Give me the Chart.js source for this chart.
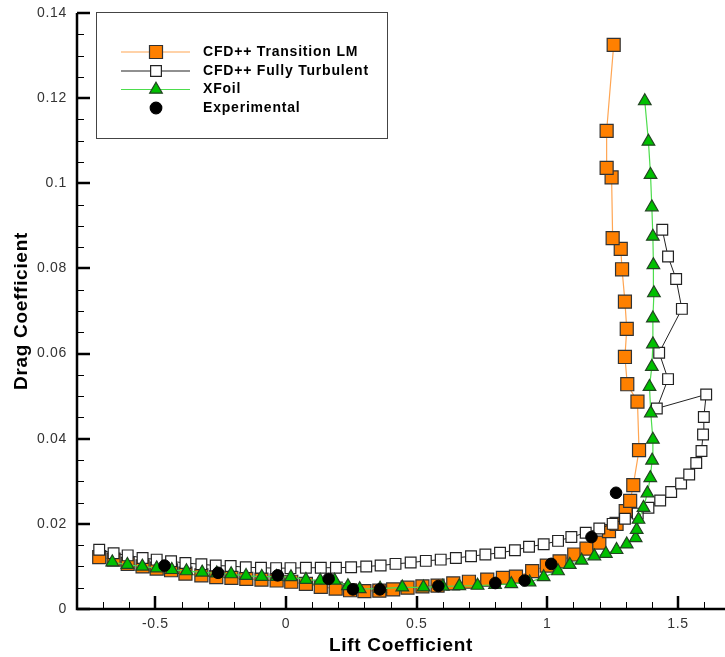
<!DOCTYPE html>
<html>
<head>
<meta charset="utf-8">
<script src="https://cdn.jsdelivr.net/npm/chart.js@4.4.1/dist/chart.umd.min.js"></script>
<style>
  body { margin: 0; background: #fff; overflow: hidden; }
</style>
</head>
<body>
<canvas id="polar" width="725" height="657"></canvas>
<script>
// CFD++ with the LM transition model
var lmCl = [-0.715, -0.660, -0.606, -0.549, -0.495, -0.440, -0.385, -0.324, -0.267, -0.209, -0.152, -0.094, -0.036,
            0.020, 0.076, 0.133, 0.190, 0.245, 0.300, 0.357, 0.410, 0.465, 0.522, 0.580, 0.640, 0.700, 0.770,
            0.830, 0.880, 0.942, 0.998, 1.047, 1.103, 1.150, 1.199, 1.236, 1.265, 1.300, 1.317, 1.329, 1.351,
            1.345, 1.306, 1.297, 1.304, 1.297, 1.286, 1.281, 1.250, 1.246, 1.227, 1.227, 1.254];
var lmCd = [0.0122, 0.0116, 0.0106, 0.0100, 0.0095, 0.0091, 0.0083, 0.0079, 0.0075, 0.0073, 0.0071, 0.0069, 0.0067,
            0.0064, 0.0059, 0.0052, 0.0048, 0.0044, 0.0042, 0.0043, 0.0046, 0.0050, 0.0053, 0.0055, 0.0060, 0.0064, 0.0069,
            0.0073, 0.0076, 0.0089, 0.0102, 0.0112, 0.0128, 0.0142, 0.0156, 0.0183, 0.0200, 0.0230, 0.0254, 0.0291, 0.0373,
            0.0487, 0.0528, 0.0592, 0.0658, 0.0722, 0.0798, 0.0846, 0.0871, 0.1014, 0.1036, 0.1123, 0.1325];

// CFD++ fully turbulent
var turbCl = [-0.715, -0.660, -0.606, -0.549, -0.495, -0.440, -0.385, -0.324, -0.269, -0.212, -0.154, -0.096, -0.038,
              0.017, 0.076, 0.133, 0.191, 0.249, 0.307, 0.362, 0.419, 0.477, 0.535, 0.592, 0.650, 0.708, 0.763,
              0.819, 0.876, 0.930, 0.986, 1.041, 1.092, 1.147, 1.199, 1.250, 1.297, 1.346, 1.387, 1.432, 1.474,
              1.512, 1.543, 1.570, 1.590, 1.596, 1.599, 1.608, 1.419, 1.462, 1.428, 1.515, 1.493, 1.462, 1.440];
var turbCd = [0.0139, 0.0131, 0.0126, 0.0120, 0.0116, 0.0112, 0.0108, 0.0105, 0.0102, 0.0101, 0.0098, 0.0097, 0.0096,
              0.0096, 0.0097, 0.0097, 0.0097, 0.0098, 0.0100, 0.0102, 0.0106, 0.0109, 0.0113, 0.0116, 0.0120, 0.0124, 0.0128,
              0.0132, 0.0138, 0.0146, 0.0152, 0.0160, 0.0169, 0.0179, 0.0189, 0.0200, 0.0212, 0.0224, 0.0238, 0.0255, 0.0275,
              0.0295, 0.0316, 0.0343, 0.0371, 0.0410, 0.0451, 0.0504, 0.0471, 0.0540, 0.0602, 0.0705, 0.0775, 0.0828, 0.0891];

// XFoil
var xfoilCl = [-0.665, -0.607, -0.550, -0.495, -0.437, -0.381, -0.321, -0.265, -0.210, -0.153, -0.093, -0.036,
               0.019, 0.076, 0.131, 0.186, 0.237, 0.282, 0.360, 0.445, 0.526, 0.600, 0.663, 0.733, 0.800, 0.862,
               0.932, 0.986, 1.041, 1.086, 1.131, 1.180, 1.224, 1.265, 1.304, 1.338, 1.342, 1.349, 1.368, 1.383,
               1.394, 1.401, 1.404, 1.396, 1.391, 1.400, 1.404, 1.404, 1.408, 1.406, 1.404, 1.400, 1.395, 1.387, 1.373];
var xfoilCd = [0.0110, 0.0104, 0.0100, 0.0096, 0.0092, 0.0089, 0.0086, 0.0084, 0.0082, 0.0078, 0.0076, 0.0076,
               0.0075, 0.0069, 0.0067, 0.0067, 0.0054, 0.0047, 0.0048, 0.0051, 0.0051, 0.0053, 0.0054, 0.0055, 0.0057, 0.0059,
               0.0063, 0.0075, 0.0089, 0.0104, 0.0114, 0.0124, 0.0130, 0.0139, 0.0152, 0.0167, 0.0186, 0.0210, 0.0238, 0.0272,
               0.0308, 0.0349, 0.0398, 0.0460, 0.0522, 0.0569, 0.0622, 0.0683, 0.0742, 0.0808, 0.0875, 0.0944, 0.1020, 0.1098, 0.1193];

// wind tunnel measurements
var expCl = [-0.465, -0.260, -0.032, 0.163, 0.256, 0.359, 0.583, 0.801, 0.913, 1.015, 1.169, 1.263];
var expCd = [0.0102, 0.0085, 0.0079, 0.0071, 0.0046, 0.0046, 0.0054, 0.0061, 0.0067, 0.0106, 0.0169, 0.0273];

var xMin = -0.8, xMax = 1.68, yMin = 0, yMax = 0.14;
var xMajor = 0.5, xMinor = 0.1, yMajor = 0.02, yMinor = 0.005;

var fontFamily = "'Liberation Sans', Arial, sans-serif";

function pts(cl, cd) {
  return cl.map(function (v, i) { return { x: v, y: cd[i] }; });
}

function fmt(v) {
  return String(Math.round(v * 1000) / 1000);
}

// slightly spread-out lettering for all canvas text
var spacing = {
  id: 'spacing',
  beforeDraw: function (chart) { chart.ctx.letterSpacing = '0.7px'; }
};

// axis lines with inward major/minor ticks
var axisTicks = {
  id: 'axisTicks',
  beforeDatasetsDraw: function (chart) {
    var ctx = chart.ctx, a = chart.chartArea, xs = chart.scales.x, ys = chart.scales.y;
    ctx.save();
    ctx.strokeStyle = '#000';
    var i, p, major;
    for (i = Math.ceil(xs.min / xMinor - 1e-9); i <= Math.floor(xs.max / xMinor + 1e-9); i++) {
      major = i % Math.round(xMajor / xMinor) === 0;
      p = Math.round(xs.getPixelForValue(i * xMinor));
      ctx.lineWidth = major ? 2.5 : 1;
      ctx.beginPath();
      ctx.moveTo(major ? p : p + 0.5, a.bottom);
      ctx.lineTo(major ? p : p + 0.5, a.bottom - (major ? 13 : 7));
      ctx.stroke();
    }
    for (i = Math.ceil(ys.min / yMinor - 1e-9); i <= Math.floor(ys.max / yMinor + 1e-9); i++) {
      major = i % Math.round(yMajor / yMinor) === 0;
      p = Math.round(ys.getPixelForValue(i * yMinor));
      ctx.lineWidth = major ? 2.5 : 1;
      ctx.beginPath();
      ctx.moveTo(a.left, major ? p : p + 0.5);
      ctx.lineTo(a.left + (major ? 13 : 7), major ? p : p + 0.5);
      ctx.stroke();
    }
    ctx.lineWidth = 2.5;
    ctx.beginPath();
    ctx.moveTo(a.left, a.top);
    ctx.lineTo(a.left, a.bottom);
    ctx.lineTo(a.right, a.bottom);
    ctx.stroke();
    ctx.restore();
  }
};

function marker(ctx, style, x, y, r, fill, stroke) {
  ctx.fillStyle = fill;
  ctx.strokeStyle = stroke;
  ctx.lineWidth = 1.2;
  ctx.beginPath();
  if (style === 'rect') {
    var s = r * Math.SQRT1_2;
    ctx.rect(x - s, y - s, 2 * s, 2 * s);
  } else if (style === 'triangle') {
    ctx.moveTo(x, y - r);
    ctx.lineTo(x + r * Math.sin(Math.PI / 3), y + r / 2);
    ctx.lineTo(x - r * Math.sin(Math.PI / 3), y + r / 2);
    ctx.closePath();
  } else {
    ctx.arc(x, y, r, 0, Math.PI * 2);
  }
  ctx.fill();
  ctx.stroke();
}

// boxed legend in the upper left of the plot
var legendBox = {
  id: 'legendBox',
  afterDraw: function (chart) {
    var ctx = chart.ctx;
    var rows = [52, 71, 89.5, 108];
    ctx.save();
    ctx.fillStyle = '#fff';
    ctx.fillRect(96.5, 12.5, 291, 126);
    ctx.strokeStyle = '#444';
    ctx.lineWidth = 1;
    ctx.strokeRect(96.5, 12.5, 291, 126);
    chart.data.datasets.forEach(function (ds, i) {
      var y = rows[i];
      if (ds.showLine) {
        ctx.strokeStyle = ds.borderColor;
        ctx.lineWidth = 1.2;
        ctx.beginPath();
        ctx.moveTo(121, y);
        ctx.lineTo(190, y);
        ctx.stroke();
      }
      marker(ctx, ds.pointStyle, 156, y, ds.pointRadius, ds.pointBackgroundColor, ds.pointBorderColor);
      ctx.fillStyle = '#000';
      ctx.font = 'bold 14px ' + fontFamily;
      ctx.letterSpacing = '0.8px';
      ctx.textBaseline = 'middle';
      ctx.textAlign = 'left';
      ctx.fillText(ds.label, 203, y);
    });
    ctx.restore();
  }
};

new Chart(document.getElementById('polar'), {
  type: 'scatter',
  data: {
    datasets: [
      {
        label: 'CFD++ Transition LM',
        data: pts(lmCl, lmCd),
        showLine: true,
        borderColor: '#ffa552',
        borderWidth: 1.2,
        pointStyle: 'rect',
        pointRadius: 9.2,
        pointBackgroundColor: '#ff8000',
        pointBorderColor: '#333',
        pointBorderWidth: 1.2,
        order: 4
      },
      {
        label: 'CFD++ Fully Turbulent',
        data: pts(turbCl, turbCd),
        showLine: true,
        borderColor: '#222',
        borderWidth: 1,
        pointStyle: 'rect',
        pointRadius: 7.6,
        pointBackgroundColor: '#fff',
        pointBorderColor: '#222',
        pointBorderWidth: 1.2,
        order: 3
      },
      {
        label: 'XFoil',
        data: pts(xfoilCl, xfoilCd),
        showLine: true,
        borderColor: '#4ddd4d',
        borderWidth: 1.2,
        pointStyle: 'triangle',
        pointRadius: 7.3,
        pointBackgroundColor: '#00c000',
        pointBorderColor: '#224422',
        pointBorderWidth: 1.2,
        order: 2
      },
      {
        label: 'Experimental',
        data: pts(expCl, expCd),
        showLine: false,
        pointStyle: 'circle',
        pointRadius: 5.8,
        pointBackgroundColor: '#000',
        pointBorderColor: '#000',
        pointBorderWidth: 1,
        order: 1
      }
    ]
  },
  options: {
    animation: false,
    responsive: false,
    layout: { autoPadding: false, padding: { top: 13, right: 0, left: 0, bottom: 0 } },
    plugins: {
      legend: { display: false },
      tooltip: { enabled: false }
    },
    scales: {
      x: {
        type: 'linear',
        min: xMin,
        max: xMax,
        grid: { display: false, drawTicks: false },
        border: { display: false },
        ticks: {
          stepSize: xMajor,
          includeBounds: false,
          color: '#333',
          padding: 7,
          font: { family: fontFamily, size: 14 },
          callback: fmt
        },
        title: {
          display: true,
          text: 'Lift Coefficient',
          color: '#000',
          font: { family: fontFamily, size: 19, weight: 'bold' },
          padding: { top: 0, bottom: 0 }
        },
        afterFit: function (s) { s.height = 48; s.paddingLeft = 0; s.paddingRight = 0; }
      },
      y: {
        type: 'linear',
        min: yMin,
        max: yMax,
        grid: { display: false, drawTicks: false },
        border: { display: false },
        ticks: {
          stepSize: yMajor,
          includeBounds: false,
          color: '#333',
          padding: 10,
          font: { family: fontFamily, size: 14 },
          callback: fmt
        },
        title: {
          display: true,
          text: 'Drag Coefficient',
          color: '#000',
          font: { family: fontFamily, size: 19, weight: 'bold' },
          padding: { top: 10, bottom: 0 }
        },
        afterFit: function (s) { s.width = 77; s.paddingTop = 0; s.paddingBottom = 0; }
      }
    }
  },
  plugins: [spacing, axisTicks, legendBox]
});
</script>
</body>
</html>
